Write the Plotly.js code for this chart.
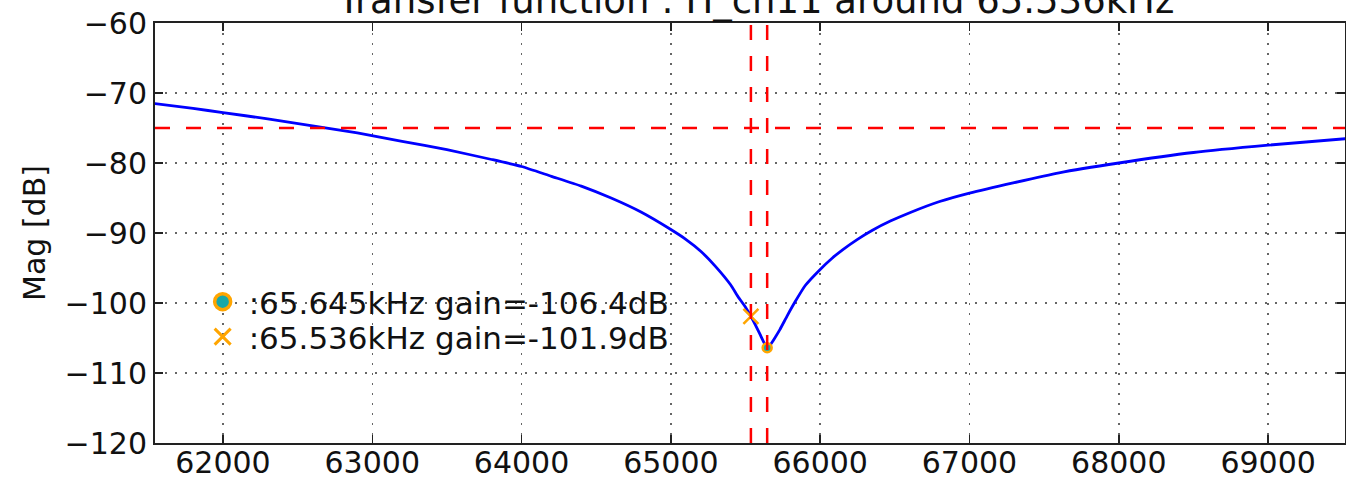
<!DOCTYPE html>
<html>
<head>
<meta charset="utf-8">
<script src="https://cdn.plot.ly/plotly-3.0.1.min.js"></script>
<style>html,body{margin:0;padding:0;background:#fff;}#chart{width:1346px;height:480px;}</style>
</head>
<body>
<div id="chart"></div>
<script>
// ---- data ----
const freqHz = [61536, 61800, 62000, 62300, 62600, 62900, 63200, 63500, 63800, 64000, 64200, 64400, 64600, 64800, 65000, 65100, 65200, 65300, 65400, 65450, 65500, 65536, 65570, 65600, 65625, 65645, 65665, 65690, 65730, 65780, 65830, 65900, 66000, 66080, 66150, 66250, 66350, 66470, 66600, 66800, 67000, 67300, 67600, 68000, 68500, 69000, 69536];
const magDb  = [-71.5, -72.2, -72.8, -73.7, -74.7, -75.7, -76.9, -78.1, -79.5, -80.5, -81.9, -83.3, -85.0, -87.0, -89.5, -90.9, -92.6, -94.8, -97.4, -99.1, -100.6, -101.9, -103.3, -104.6, -105.7, -106.4, -106.0, -105.2, -103.8, -101.8, -99.9, -97.5, -95.2, -93.6, -92.4, -90.9, -89.6, -88.3, -87.1, -85.5, -84.3, -82.8, -81.4, -80.0, -78.5, -77.45, -76.5];
const minFreq = [65645];
const minGain = [-106.4];
const nomFreq = [65536];
const nomGain = [-101.9];
const thresholdDb = -75;
const legendNames = [':65.645kHz gain=-106.4dB', ':65.536kHz gain=-101.9dB'];
const titleText = 'Transfer function : H_ch11 around 65.536kHz';
const yTitle = 'Mag [dB]';

const FONT = 'DejaVu Sans, sans-serif';
const ORANGE = '#ffa500';
const TEAL = '#1aa8a8';

const traces = [
  {x: freqHz, y: magDb, type: 'scatter', mode: 'lines', line: {color: '#0000ff', width: 2.8, shape: 'spline', smoothing: 0.5}, showlegend: false, hoverinfo: 'skip'},
  {x: minFreq, y: minGain, type: 'scatter', mode: 'markers', showlegend: false,
   marker: {symbol: 'circle', size: 9, color: TEAL, line: {color: ORANGE, width: 2.5}}},
  {x: nomFreq, y: nomGain, type: 'scatter', mode: 'markers', showlegend: false,
   marker: {symbol: 'x-thin-open', size: 15, color: ORANGE, line: {color: ORANGE, width: 2.5}}},
  // legend keys (same data, on a hidden axis so only the legend shows them)
  {x: minFreq, y: minGain, type: 'scatter', mode: 'markers', name: legendNames[0], xaxis: 'x2', yaxis: 'y', legend: 'legend',
   marker: {symbol: 'circle', size: 16, color: TEAL, line: {color: ORANGE, width: 3.5}}},
  {x: nomFreq, y: nomGain, type: 'scatter', mode: 'markers', name: legendNames[1], xaxis: 'x2', yaxis: 'y', legend: 'legend2',
   marker: {symbol: 'x-thin-open', size: 16, color: ORANGE, line: {color: ORANGE, width: 3}}}
];

const dashStyle = '15px,16px';
const shapes = [
  {type: 'line', xref: 'paper', x0: 0, x1: 1, yref: 'y', y0: thresholdDb, y1: thresholdDb, line: {color: '#ff0000', width: 2.5, dash: dashStyle}},
  {type: 'line', xref: 'x', x0: nomFreq[0], x1: nomFreq[0], yref: 'paper', y0: 0, y1: 1, line: {color: '#ff0000', width: 2.5, dash: dashStyle}},
  {type: 'line', xref: 'x', x0: minFreq[0], x1: minFreq[0], yref: 'paper', y0: 0, y1: 1, line: {color: '#ff0000', width: 2.5, dash: dashStyle}}
];

const axisCommon = {
  showline: true, linecolor: '#222', linewidth: 2, mirror: 'ticks',
  ticks: 'inside', ticklen: 8, tickwidth: 1.5, tickcolor: '#222',
  showgrid: true, gridcolor: '#666', gridwidth: 1.5, griddash: '2px,8px',
  zeroline: false, tickfont: {family: FONT, size: 30, color: '#111'}
};

const legendCommon = {xanchor: 'left', yanchor: 'middle', bgcolor: 'rgba(0,0,0,0)', borderwidth: 0, itemwidth: 42,
  font: {family: FONT, size: 31, color: '#111'}};

const layout = {
  width: 1346, height: 480,
  margin: {l: 155, r: 1, t: 23, b: 37, pad: 0},
  paper_bgcolor: '#fff', plot_bgcolor: '#fff',
  font: {family: FONT, color: '#111'},
  title: {text: titleText, font: {family: FONT, size: 37, color: '#111'}, xref: 'container', x: 0.5617, xanchor: 'center', yref: 'container', y: 1 - 13 / 480, yanchor: 'bottom'},
  xaxis: Object.assign({}, axisCommon, {range: [61545, 69515], dtick: 1000, tick0: 62000, tickformat: 'd', ticklabelstandoff: -8}),
  xaxis2: {overlaying: 'x', range: [0, 1], visible: false},
  yaxis: Object.assign({}, axisCommon, {range: [-120, -60], dtick: 10, ticklabelstandoff: 0,
    title: {text: yTitle, font: {family: FONT, size: 30, color: '#111'}, standoff: 10}}),
  legend: Object.assign({}, legendCommon, {x: 0.035, y: (443 - 302) / 420}),
  legend2: Object.assign({}, legendCommon, {x: 0.035, y: (443 - 337) / 420}),
  shapes: shapes,
  showlegend: true
};

Plotly.newPlot('chart', traces, layout, {displayModeBar: false, staticPlot: true});
</script>
</body>
</html>
